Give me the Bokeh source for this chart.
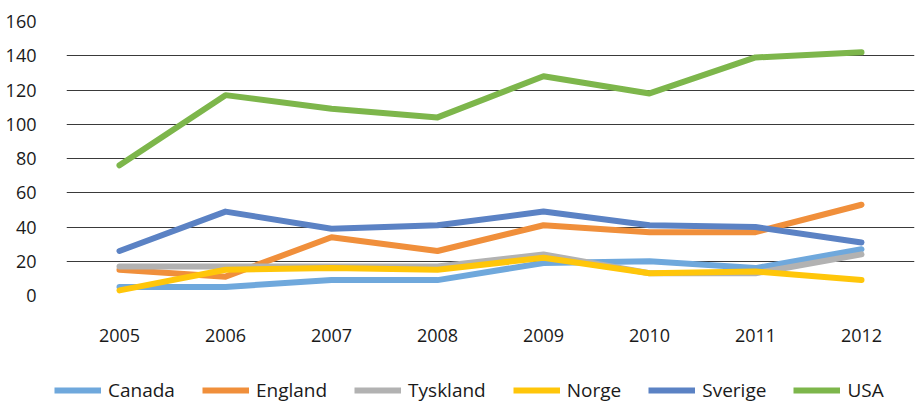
from bokeh.plotting import figure
from bokeh.models import Range1d, FactorRange, Legend, LegendItem
from bokeh.embed import file_html
from bokeh.resources import INLINE

years = ["2005", "2006", "2007", "2008", "2009", "2010", "2011", "2012"]
canada = [5, 5, 9, 9, 19, 20, 16, 27]
england = [15, 11, 34, 26, 41, 37, 37, 53]
tyskland = [17, 17, 17, 17, 24, 13, 13, 24]
norge = [3, 15, 16, 15, 22, 13, 14, 9]
sverige = [26, 49, 39, 41, 49, 41, 40, 31]
usa = [76, 117, 109, 104, 128, 118, 139, 142]
y_ticks = [0, 20, 40, 60, 80, 100, 120, 140, 160]

series = [
    ("Canada", canada, "#6FA8DC"),
    ("England", england, "#F08F3B"),
    ("Tyskland", tyskland, "#B2B2B2"),
    ("Norge", norge, "#FFC60A"),
    ("Sverige", sverige, "#5B82C4"),
    ("USA", usa, "#7DB64B"),
]

FONT = "Open Sans"

p = figure(width=918, height=363, output_backend="svg", toolbar_location=None,
           x_range=FactorRange(factors=years, range_padding=0),
           y_range=Range1d(0, 160),
           min_border_left=66, min_border_right=4, min_border_top=21, min_border_bottom=68)
p.outline_line_color = None
p.background_fill_color = "white"
p.border_fill_color = "white"

p.xgrid.grid_line_color = None
p.ygrid.grid_line_color = "#3a3a3a"
p.ygrid.grid_line_width = 1

p.yaxis.ticker = y_ticks
p.yaxis.axis_line_color = None
p.yaxis.major_tick_line_color = None
p.yaxis.minor_tick_line_color = None
p.yaxis.major_label_standoff = 24
p.yaxis.major_label_text_font = FONT
p.yaxis.major_label_text_font_size = "18px"
p.yaxis.major_label_text_color = "#1a1a1a"

p.xaxis.axis_line_color = None
p.xaxis.major_tick_line_color = None
p.xaxis.minor_tick_line_color = None
p.xaxis.major_label_standoff = 27
p.xaxis.major_label_text_font = FONT
p.xaxis.major_label_text_font_size = "18px"
p.xaxis.major_label_text_color = "#1a1a1a"

for name, vals, col in series:
    p.line(years, vals, line_color=col, line_width=6,
           line_cap="round", line_join="round")

# legend strip below the chart (separate root, full-width frame)
p2 = figure(width=918, height=40, output_backend="svg", toolbar_location=None,
            x_range=Range1d(0, 1), y_range=Range1d(0, 1),
            x_axis_location=None, y_axis_location=None,
            min_border_left=0, min_border_right=0, min_border_top=0, min_border_bottom=0)
p2.outline_line_color = None
p2.grid.visible = False
nan = float("nan")
items = []
for name, vals, col in series:
    r = p2.line(x=[nan], y=[nan], line_color=col, line_width=6)
    items.append(LegendItem(label=name, renderers=[r]))

lg = Legend(items=items, location=(54, 0), orientation="horizontal",
            padding=0, margin=0, spacing=27,
            glyph_width=47, glyph_height=20, label_standoff=7,
            label_text_font=FONT, label_text_font_size="19px",
            label_text_color="#1a1a1a",
            background_fill_alpha=0, border_line_alpha=0)
p2.add_layout(lg, "center")

open("out.html", "w").write(file_html([p, p2], INLINE))
